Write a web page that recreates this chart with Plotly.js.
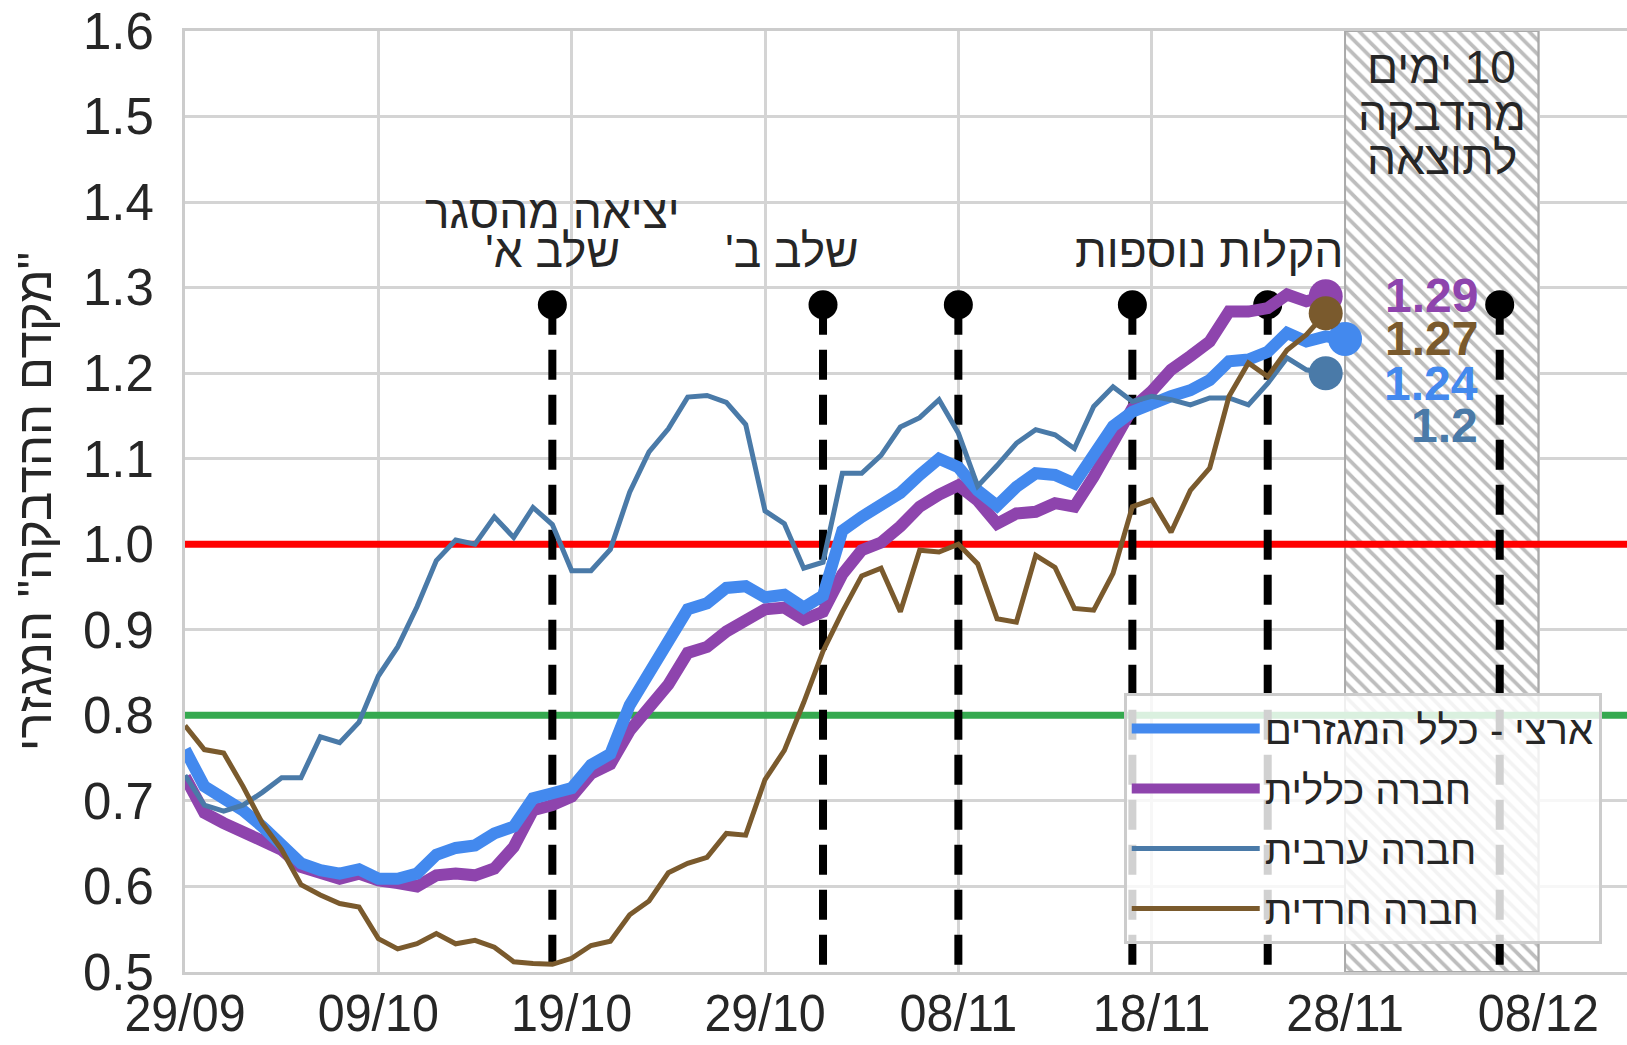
<!DOCTYPE html>
<html><head><meta charset="utf-8">
<script src="https://cdn.plot.ly/plotly-3.0.1.min.js"></script>
<style>html,body{margin:0;padding:0;background:#fff}#chart{width:1627px;height:1045px}</style>
</head><body><div id="chart"></div>
<script>
// ---- data ----
const startDate = '2020-09-29';
const seriesNames = ['ארצי - כלל המגזרים', 'חברה כללית', 'חברה ערבית', 'חברה חרדית'];
const national = [0.76,0.717,0.703,0.689,0.67,0.65,0.627,0.619,0.615,0.62,0.609,0.609,0.615,0.637,0.645,0.648,0.662,0.67,0.703,0.709,0.715,0.742,0.755,0.812,0.85,0.887,0.924,0.931,0.949,0.951,0.938,0.941,0.926,0.94,1.016,1.032,1.046,1.06,1.081,1.10,1.09,1.063,1.045,1.067,1.083,1.081,1.071,1.102,1.138,1.155,1.165,1.173,1.18,1.192,1.214,1.216,1.225,1.247,1.237,1.243,1.24];
const general = [0.728,0.686,0.674,0.664,0.652,0.643,0.623,0.615,0.609,0.615,0.607,0.604,0.60,0.613,0.615,0.613,0.621,0.646,0.689,0.695,0.705,0.732,0.743,0.782,0.808,0.836,0.873,0.88,0.898,0.91,0.924,0.926,0.912,0.921,0.965,0.993,1.002,1.021,1.044,1.058,1.069,1.051,1.024,1.036,1.038,1.048,1.044,1.079,1.118,1.159,1.179,1.204,1.22,1.237,1.272,1.272,1.276,1.292,1.284,1.29];
const arab = [0.73,0.695,0.688,0.695,0.71,0.727,0.727,0.775,0.768,0.792,0.846,0.88,0.927,0.981,1.005,1.0,1.032,1.008,1.043,1.023,0.969,0.969,0.994,1.061,1.108,1.135,1.172,1.174,1.166,1.14,1.039,1.024,0.972,0.979,1.083,1.083,1.104,1.137,1.148,1.169,1.13,1.068,1.092,1.118,1.134,1.128,1.112,1.161,1.184,1.167,1.173,1.169,1.163,1.171,1.171,1.163,1.188,1.218,1.204,1.2];
const haredi = [0.788,0.76,0.756,0.717,0.674,0.643,0.602,0.59,0.58,0.576,0.539,0.527,0.533,0.545,0.533,0.537,0.529,0.512,0.51,0.509,0.516,0.531,0.536,0.567,0.583,0.616,0.627,0.634,0.662,0.66,0.725,0.759,0.815,0.875,0.921,0.963,0.972,0.921,0.993,0.991,1.0,0.977,0.913,0.909,0.987,0.973,0.925,0.923,0.966,1.044,1.052,1.014,1.063,1.089,1.173,1.212,1.196,1.227,1.245,1.27];
const endLabels = ['1.24', '1.29', '1.2', '1.27'];
const thresholds = [1.0, 0.8];
const eventDates = ['2020-10-18', '2020-11-01', '2020-11-08', '2020-11-17', '2020-11-24', '2020-12-06'];
const eventLevel = 1.28;
const shadeStart = '2020-11-28', shadeEnd = '2020-12-08';
const yMin = 0.5, yMax = 1.6;
const xStart = '2020-09-29', xEnd = '2020-12-12 14:00';

// ---- styles ----
const colors = ['#4389ee', '#8e44ad', '#4a7aa8', '#7a5a2d'];
const widths = [12, 12, 5, 5];
const FONT = 'Liberation Sans, Arial, DejaVu Sans, sans-serif';
const TXT = '#262626';
const RLM = '\u200F';

function dayStr(i) {
  const p = startDate.split('-').map(Number);
  return new Date(Date.UTC(p[0], p[1] - 1, p[2] + i)).toISOString().slice(0, 10);
}
const allSeries = [national, general, arab, haredi];

const traces = [];
// hatched "10 days" region
const t0 = Date.parse(shadeStart), t1 = Date.parse(shadeEnd);
traces.push({
  type: 'bar', x: [new Date((t0 + t1) / 2).toISOString()], y: [yMax - yMin], base: [yMin],
  width: [t1 - t0], showlegend: false, hoverinfo: 'skip',
  marker: { color: 'white', line: { color: '#aaaaaa', width: 2 },
    pattern: { shape: '\\', fgcolor: '#bdbdbd', bgcolor: 'white', size: 10, solidity: 0.38 } }
});
// threshold lines
const thrColors = ['#ff0000', '#35a94f'];
thresholds.forEach((v, k) => traces.push({
  type: 'scatter', mode: 'lines', x: [xStart, xEnd], y: [v, v], showlegend: false, hoverinfo: 'skip',
  line: { color: thrColors[k], width: 7 }
}));
// event dashed lines
eventDates.forEach(d => traces.push({
  type: 'scatter', mode: 'lines', x: [d, d], y: [eventLevel, yMin], showlegend: false, hoverinfo: 'skip',
  line: { color: 'black', width: 8, dash: '30px,15px' }
}));
traces.push({
  type: 'scatter', mode: 'markers', x: eventDates, y: eventDates.map(() => eventLevel),
  showlegend: false, hoverinfo: 'skip', marker: { color: 'black', size: 29 }
});
// series (draw order: general, national, arab, haredi)
const drawOrder = [1, 0, 2, 3];
drawOrder.forEach(k => {
  const vals = allSeries[k];
  const xs = vals.map((_, i) => dayStr(i));
  traces.push({
    type: 'scatter', mode: 'lines', name: seriesNames[k], x: xs, y: vals,
    line: { color: colors[k], width: widths[k] }, legendrank: k + 1, legendgroup: 'g' + k
  });
});
drawOrder.forEach(k => {
  const vals = allSeries[k];
  const li = vals.length - 1;
  traces.push({
    type: 'scatter', mode: 'markers', x: [dayStr(li)], y: [vals[li]], showlegend: false,
    hoverinfo: 'skip', marker: { color: colors[k], size: 34 }
  });
});

// ---- annotations ----
const ann = [];
function txt(x, y, text, opts) {
  ann.push(Object.assign({ x: x, y: y, xref: 'x', yref: 'y', text: RLM + text + RLM, showarrow: false,
    xanchor: 'center', yanchor: 'middle', font: { family: FONT, size: 46, color: TXT } }, opts || {}));
}
txt('2020-10-18', 1.388, 'יציאה מהסגר');
txt('2020-10-18', 1.343, "שלב א'");
txt('2020-10-30 10:00', 1.343, "שלב ב'");
txt('2020-11-21', 1.343, 'הקלות נוספות');
txt('2020-12-03', 1.558, '10 ימים');
txt('2020-12-03', 1.503, 'מהדבקה');
txt('2020-12-03', 1.452, 'לתוצאה');
const labelY = [1.188, 1.291, 1.139, 1.24];
[1, 3, 0, 2].forEach(k => {
  ann.push({ x: '2020-12-04 23:00', y: labelY[k], xref: 'x', yref: 'y', text: '<b>' + endLabels[k] + '</b>',
    showarrow: false, xanchor: 'right', yanchor: 'middle',
    font: { family: FONT, size: 48, color: colors[k] } });
});

const layout = {
  width: 1627, height: 1045,
  margin: { l: 185, r: 0, t: 31, b: 73 },
  paper_bgcolor: 'white', plot_bgcolor: 'white',
  font: { family: FONT, color: TXT },
  showlegend: true,
  legend: {
    x: 0.651, y: 0.2965, xanchor: 'left', yanchor: 'top',
    bgcolor: 'rgba(255,255,255,0.82)', bordercolor: '#cccccc', borderwidth: 3,
    font: { family: FONT, size: 40, color: TXT }, itemwidth: 128,
    traceorder: 'grouped', tracegroupgap: 5
  },
  xaxis: {
    type: 'date', range: [xStart, xEnd], tick0: xStart, dtick: 864000000, tickformat: '%d/%m',
    showgrid: true, gridcolor: '#d4d4d4', gridwidth: 3, zeroline: false,
    showline: true, linecolor: '#cccccc', linewidth: 3, mirror: true,
    ticks: '', ticklabelstandoff: -5,
    tickfont: { family: FONT, size: 51, color: TXT }
  },
  yaxis: {
    range: [yMin, yMax], tick0: 0.5, dtick: 0.1, tickformat: '.1f',
    showgrid: true, gridcolor: '#d4d4d4', gridwidth: 3, zeroline: false,
    showline: true, linecolor: '#cccccc', linewidth: 3,
    ticks: 'outside', ticklen: 18, tickcolor: 'rgba(0,0,0,0)',
    tickfont: { family: FONT, size: 51, color: TXT },
    title: { text: RLM + '"מקדם ההדבקה" המגזרי' + RLM, font: { family: FONT, size: 49, color: TXT }, standoff: 16 }
  },
  annotations: ann,
  hovermode: false
};
Plotly.newPlot('chart', traces, layout, { displayModeBar: false, staticPlot: true }).then(gd => {
  // slightly condense x tick labels horizontally (narrow look of the reference)
  gd.querySelectorAll('.xtick text').forEach(t => {
    const len = t.getComputedTextLength();
    t.setAttribute('textLength', (len * 0.95).toFixed(1));
    t.setAttribute('lengthAdjust', 'spacingAndGlyphs');
  });
});
</script></body></html>
